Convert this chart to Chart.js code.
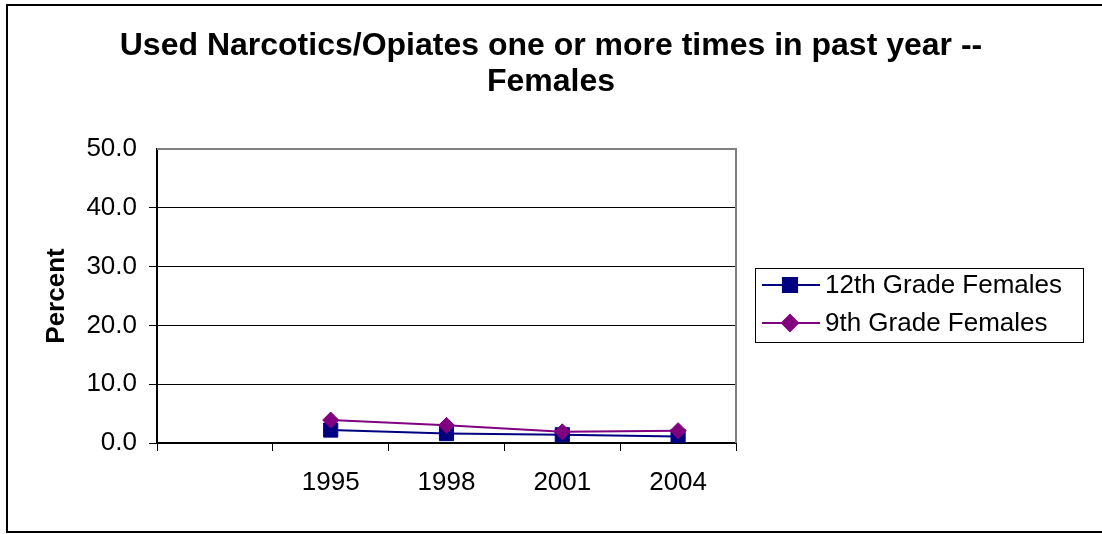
<!DOCTYPE html>
<html>
<head>
<meta charset="utf-8">
<script src="https://cdn.jsdelivr.net/npm/chart.js@4/dist/chart.umd.min.js"></script>
<style>
  html, body { margin: 0; padding: 0; background: #fff; }
  #wrap { width: 1102px; height: 534px; position: relative; }
</style>
</head>
<body>
<div id="wrap"><canvas id="narcChart"></canvas></div>
<script>
// Values
var years = ['', '1995', '1998', '2001', '2004'];
var grade12Females = [null, 2.2, 1.6, 1.4, 1.1];
var grade9Females = [null, 3.9, 3.0, 1.9, 2.1];
var seriesNames = ['12th Grade Females', '9th Grade Females'];
var yTicks = [0, 10, 20, 30, 40, 50];

var fontFamily = '"Liberation Sans", Arial, sans-serif';

// Outer frame, plot border (top/right gray) and the boxed legend
var framePlugin = {
    id: 'frame',
    beforeDraw(chart) {
        var ctx = chart.ctx;
        ctx.save();
        ctx.fillStyle = '#fff';
        ctx.fillRect(0, 0, chart.width, chart.height);
        ctx.strokeStyle = '#000';
        ctx.lineWidth = 2;
        ctx.strokeRect(7, 5, chart.width + 10, 527);
        ctx.restore();
    },
    afterDraw(chart) {
        var ctx = chart.ctx;
        var area = chart.chartArea;
        ctx.save();
        ctx.strokeStyle = '#808080';
        ctx.lineWidth = 2;
        ctx.beginPath();
        ctx.moveTo(area.left, area.top);
        ctx.lineTo(area.right, area.top);
        ctx.lineTo(area.right, area.bottom);
        ctx.stroke();

        // legend
        ctx.strokeStyle = '#000';
        ctx.lineWidth = 1;
        ctx.strokeRect(755.5, 268.5, 328, 74);
        ctx.font = '26px ' + fontFamily;
        ctx.textBaseline = 'middle';
        ctx.fillStyle = '#000';
        chart.data.datasets.forEach(function(ds, i) {
            var y = 285 + i * 38;
            ctx.strokeStyle = ds.borderColor;
            ctx.lineWidth = 2;
            ctx.beginPath();
            ctx.moveTo(762, y);
            ctx.lineTo(820, y);
            ctx.stroke();
            Chart.helpers.drawPoint(ctx, {
                pointStyle: ds.pointStyle,
                radius: ds.pointRadius,
                rotation: 0,
                borderWidth: 1
            }, 790, y);
            ctx.fillStyle = ds.backgroundColor;
            ctx.fill();
            ctx.fillStyle = '#000';
            ctx.fillText(ds.label, 825, y + 1);
        });
        ctx.restore();
    }
};

document.addEventListener('DOMContentLoaded', function() {
    var ctx = document.getElementById('narcChart').getContext('2d');
    new Chart(ctx, {
        type: 'line',
        data: {
            labels: years,
            datasets: [{
                label: seriesNames[0],
                data: grade12Females,
                borderColor: '#000080',
                backgroundColor: '#000080',
                borderWidth: 2,
                pointStyle: 'rect',
                pointRadius: 10,
                pointBorderWidth: 1,
                order: 1
            }, {
                label: seriesNames[1],
                data: grade9Females,
                borderColor: '#800080',
                backgroundColor: '#800080',
                borderWidth: 2,
                pointStyle: 'rectRot',
                pointRadius: 8,
                pointBorderWidth: 1,
                order: 0
            }]
        },
        options: {
            responsive: true,
            maintainAspectRatio: false,
            animation: false,
            layout: { padding: { left: 0, right: 0, top: 0, bottom: 31 } },
            plugins: {
                legend: { display: false },
                tooltip: { enabled: false },
                title: {
                    display: true,
                    text: ['Used Narcotics/Opiates one or more times in past year --', 'Females'],
                    color: '#000',
                    font: { family: fontFamily, size: 32, weight: 'bold', lineHeight: 1.125 },
                    padding: { top: 28, bottom: 49 }
                }
            },
            scales: {
                x: {
                    offset: true,
                    grid: {
                        offset: true,
                        drawOnChartArea: false,
                        color: '#000',
                        tickLength: 8
                    },
                    border: { color: '#000', width: 2 },
                    ticks: {
                        color: '#000',
                        font: { family: fontFamily, size: 26 },
                        padding: 16,
                        maxRotation: 0
                    },
                    afterFit(scale) { scale.height = 60; }
                },
                y: {
                    min: 0,
                    max: 50,
                    afterBuildTicks(scale) {
                        scale.ticks = yTicks.map(v => ({ value: v }));
                    },
                    grid: {
                        color: ctx => ctx.tick && ctx.tick.value === 50 ? 'rgba(0,0,0,0)' : '#000',
                        tickLength: 8
                    },
                    border: { color: '#000', width: 2 },
                    ticks: {
                        color: '#000',
                        font: { family: fontFamily, size: 26 },
                        padding: 12,
                        callback: v => v.toFixed(1)
                    },
                    title: {
                        display: true,
                        text: 'Percent',
                        color: '#000',
                        font: { family: fontFamily, size: 26, weight: 'bold' },
                        padding: { top: 41, bottom: 0 }
                    },
                    afterFit(scale) { scale.width = 157; }
                },
                // empty space on the right that holds the legend box
                legendSpace: {
                    type: 'linear',
                    position: 'right',
                    grid: { display: false },
                    border: { display: false },
                    ticks: { display: false },
                    afterFit(scale) { scale.width = 366; }
                }
            }
        },
        plugins: [framePlugin]
    });
});
</script>
</body>
</html>
